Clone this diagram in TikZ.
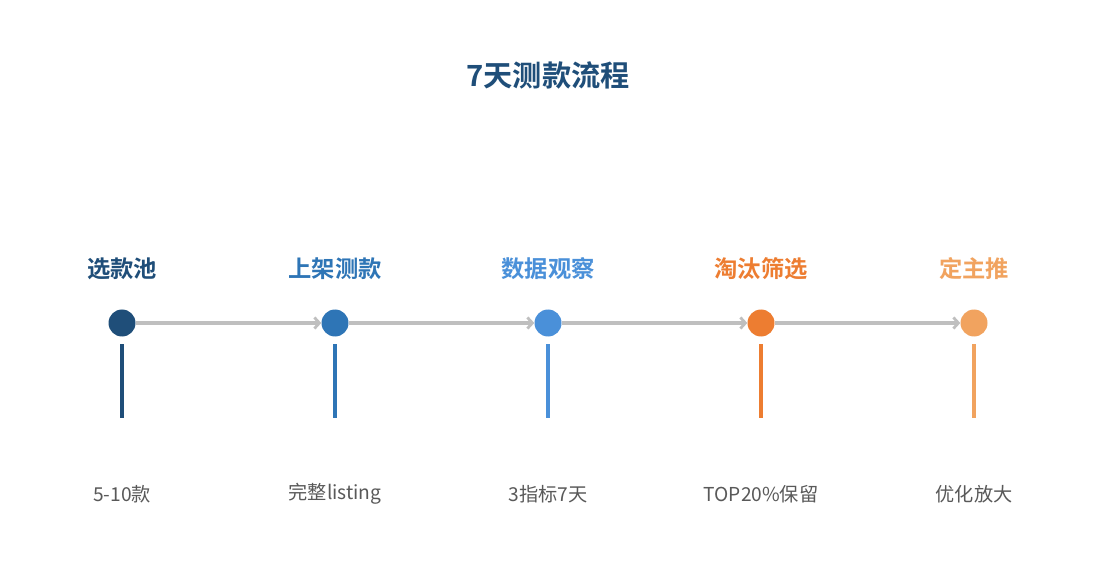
\documentclass[tikz,border=0pt]{standalone}
\usepackage{fontspec}
\setmainfont{Noto Sans CJK SC}
\newfontfamily\cjkbold{Noto Sans CJK SC Bold}
\usetikzlibrary{arrows.meta}
\definecolor{cA}{HTML}{1F4E79}
\definecolor{cB}{HTML}{2E75B6}
\definecolor{cC}{HTML}{4A90D9}
\definecolor{cD}{HTML}{ED7D31}
\definecolor{cE}{HTML}{F1A35F}
\definecolor{arrowgray}{HTML}{BFBFBF}
\definecolor{txtgray}{HTML}{595959}
\tikzset{
  dot/.style={circle,fill=#1,minimum size=27pt,inner sep=0pt},
  steplabel/.style={font=\cjkbold\fontsize{23.3}{26}\selectfont,text=#1,anchor=center},
  desclabel/.style={font=\fontsize{19.2}{22}\selectfont,text=txtgray,anchor=center},
  stem/.style={draw=#1,line width=4pt},
  flow/.style={draw=arrowgray,line width=3.2pt,-{Straight Barb[length=5pt,width=11pt,line width=2.8pt]}},
  titlestyle/.style={font=\cjkbold\fontsize{29.2}{32}\selectfont,text=cA}
}
\begin{document}
\begin{tikzpicture}[x=1pt,y=-1pt]
\useasboundingbox[fill=white] (0,0) rectangle (1095,585);
\node[titlestyle] (title) at (548,75) {7天测款流程};
\foreach \i/\x/\c/\t/\d in {1/122/cA/选款池/5-10款, 2/335/cB/上架测款/完整listing, 3/548/cC/数据观察/3指标7天, 4/761/cD/淘汰筛选/TOP20\%保留, 5/974/cE/定主推/优化放大}{
  \node[dot=\c] (n\i) at (\x,323) {};
  \node[steplabel=\c] (l\i) at (\x,269) {\t};
  \node[desclabel] (d\i) at (\x,494) {\d};
  \coordinate (s\i) at (\x,344);
  \coordinate (e\i) at (\x,418);
  \draw[stem=\c] (s\i) -- (e\i);
}
\foreach \a/\b in {1/2,2/3,3/4,4/5}{
  \draw[flow] (n\a) -- (n\b);
}
\end{tikzpicture}
\end{document}
